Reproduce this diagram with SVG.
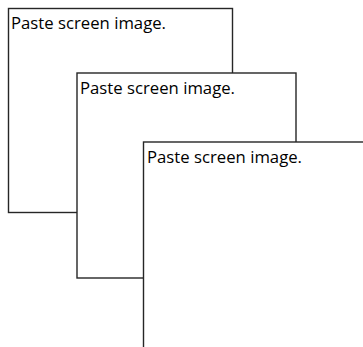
<svg xmlns="http://www.w3.org/2000/svg" width="363" height="347" viewBox="0 0 363 347">
<style>
.box{fill:#fff;stroke:#262626;stroke-width:1.4}
.lbl{font-family:"Open Sans","Noto Sans",sans-serif;font-size:15.5px;fill:#000}
</style>
<rect width="363" height="347" fill="#fff"/>
<g id="screen1">
<rect class="box" x="8.5" y="8.5" width="224" height="204"/>
<text class="lbl" x="11" y="28.5" textLength="155" lengthAdjust="spacingAndGlyphs">Paste screen image.</text>
</g>
<g id="screen2">
<rect class="box" x="77" y="73" width="219" height="205"/>
<text class="lbl" x="80" y="93.5" textLength="155" lengthAdjust="spacingAndGlyphs">Paste screen image.</text>
</g>
<g id="screen3">
<rect class="box" x="143.5" y="142" width="230" height="220"/>
<text class="lbl" x="147" y="162.5" textLength="155" lengthAdjust="spacingAndGlyphs">Paste screen image.</text>
</g>
</svg>
